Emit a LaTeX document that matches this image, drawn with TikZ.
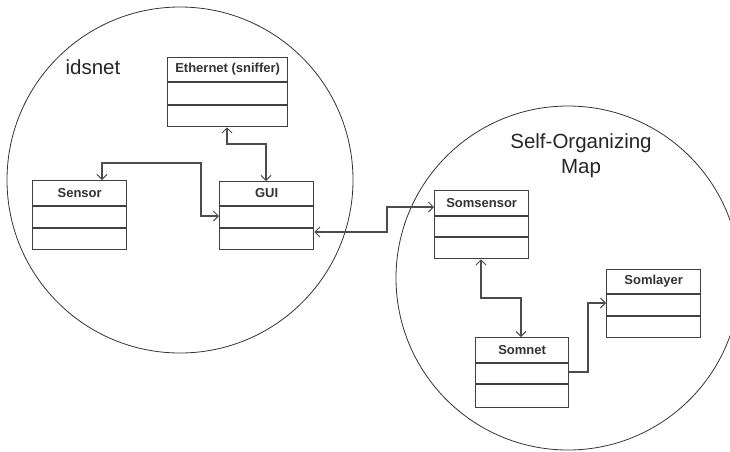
\documentclass[tikz,border=0pt]{standalone}
\usepackage{fontspec}
\setmainfont{Liberation Sans}
\usetikzlibrary{arrows.meta,calc}

\tikzset{
  region/.style={draw=black!80, line width=0.8pt},
  classbox/.style={draw=black!75, line width=1.3pt, fill=white, inner sep=0pt},
  classtitle/.style={font=\bfseries\fontsize{13}{15}\selectfont, text=black!80, inner sep=0pt},
  regiontitle/.style={font=\fontsize{20.5}{25}\selectfont, text=black!85, align=center, inner sep=0pt},
  link/.style={draw=black!70, line width=1.3pt},
  barb/.tip={Straight Barb[length=5pt,width=10pt,line width=1pt]},
}

% a UML class with a title compartment and two empty compartments
% #1 name, #2 left, #3 top, #4 width, #5 height, #6 first divider, #7 second divider, #8 title
\newcommand{\umlclass}[8]{%
  \node[classbox, anchor=north west, minimum width=#4pt, minimum height=#5pt] (#1) at (#2,#3) {};
  \node[classtitle] (#1-t) at ($(#1.north)+(0,#6/2)$) {#8};
  \draw[classbox] ($(#1.north west)+(0,#6)$) -- ($(#1.north east)+(0,#6)$);
  \draw[classbox] ($(#1.north west)+(0,#7)$) -- ($(#1.north east)+(0,#7)$);
}

\begin{document}
\begin{tikzpicture}[x=1pt, y=-1pt]
  \useasboundingbox (0,0) rectangle (730,451);

  % the two subsystems
  \draw[region] (180,180) circle [radius=173pt];
  \draw[region] (568,278) circle [radius=172pt];
  \node[regiontitle] (idsnet) at (93,67) {idsnet};
  \node[regiontitle] (som) at (581,156) {Self-Organizing\\Map};

  % classes
  \umlclass{eth}{167}{57}{120}{69}{25}{48}{Ethernet (sniffer)}
  \umlclass{sensor}{32}{180}{94}{69}{26}{48}{Sensor}
  \umlclass{gui}{219}{181}{94}{68}{25}{47}{GUI}
  \umlclass{somsensor}{434}{190}{94}{68}{26}{47}{Somsensor}
  \umlclass{somlayer}{606}{269}{94}{68}{25}{47}{Somlayer}
  \umlclass{somnet}{475}{337}{93}{70}{26}{47}{Somnet}

  % associations
  \coordinate (e1) at (227,144);
  \coordinate (e2) at (266,144);
  \draw[link, barb-barb] (eth.south -| e1) -- (e1) -- (e2) -- (gui.north -| e2);

  \coordinate (s1) at (102,163);
  \coordinate (s2) at (201,163);
  \coordinate (s3) at (201,216);
  \draw[link, barb-barb] (sensor.north -| s1) -- (s1) -- (s2) -- (s3) -- (gui.west |- s3);

  \coordinate (g1) at (387,232);
  \coordinate (g2) at (387,207);
  \draw[link, barb-barb] (gui.east |- g1) -- (g1) -- (g2) -- (somsensor.west |- g2);

  \coordinate (n1) at (481,298);
  \coordinate (n2) at (521,298);
  \draw[link, barb-barb] (somsensor.south -| n1) -- (n1) -- (n2) -- (somnet.north -| n2);

  \coordinate (l1) at (588,372);
  \coordinate (l2) at (588,303);
  \draw[link, -barb] (somnet.east |- l1) -- (l1) -- (l2) -- (somlayer.west |- l2);
\end{tikzpicture}
\end{document}
